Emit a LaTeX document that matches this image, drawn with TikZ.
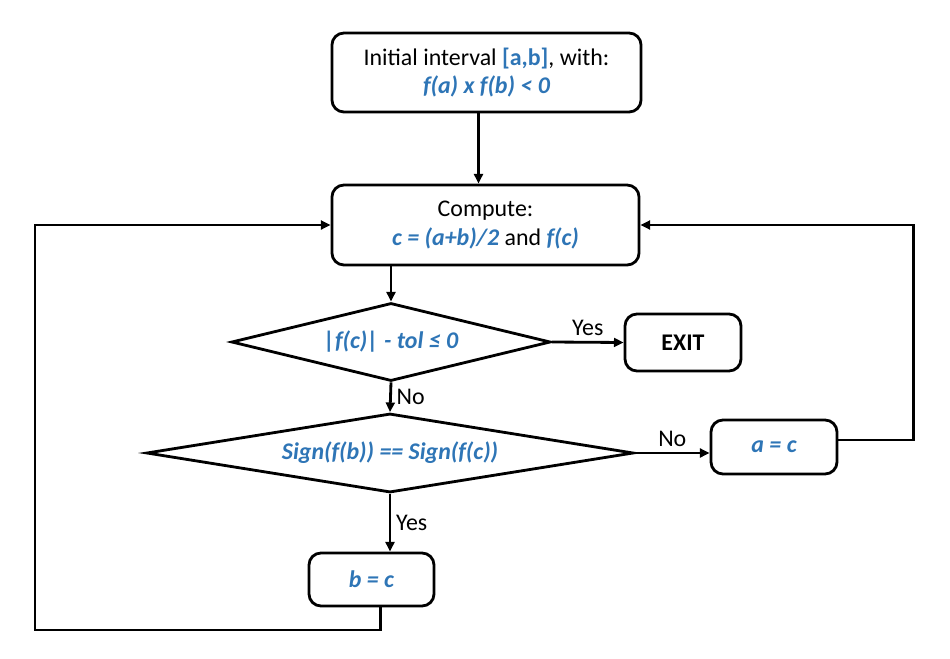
\documentclass[tikz,border=0pt]{standalone}
\usepackage{fontspec}
\setmainfont{Carlito}
\usetikzlibrary{shapes.geometric,arrows.meta}
\definecolor{valblue}{RGB}{46,117,182}
\newcommand{\val}[1]{\textcolor{valblue}{\bfseries\itshape #1}}

\begin{document}
\begin{tikzpicture}[x=0.025cm, y=-0.025cm,
  every node/.style = {font=\fontsize{17}{20}\selectfont, align=center},
  box/.style = {shape=rectangle, rounded corners=0.3cm, draw, line width=2pt},
  test/.style = {shape=diamond, draw, line width=2pt, inner sep=0pt},
  flow/.style = {line width=2pt, -{Triangle[length=0.24cm,width=0.22cm]}}]
  \useasboundingbox (0,0) rectangle (950,659);
  \node [box, minimum width=7.725cm, minimum height=1.975cm] (init) at (486.5,72.5)
    {Initial interval \textcolor{valblue}{\bfseries [a,b]}, with:\\ \val{f(a) x f(b) < 0}};
  \node [box, minimum width=7.675cm, minimum height=2cm] (comp) at (485.5,225)
    {Compute:\\ \val{c = (a+b)/2} and \val{f(c)}};
  \node [test, aspect=4, minimum width=7.975cm, minimum height=1.95cm] (tol) at (391,342)
    {\val{|f(c)| - tol ≤ 0}};
  \node [box, minimum width=2.9cm, minimum height=1.425cm] (exit) at (683,342.5)
    {\bfseries EXIT};
  \node [test, aspect=6, minimum width=12.175cm, minimum height=1.975cm] (sign) at (390,453)
    {\val{Sign(f(b)) == Sign(f(c))}};
  \node [box, minimum width=3.15cm, minimum height=1.35cm] (seta) at (774,447)
    {\val{a = c}};
  \node [box, minimum width=3.125cm, minimum height=1.325cm] (setb) at (371.5,579.5)
    {\val{b = c}};
  % main line
  \draw [flow] ([xshift=-0.2cm]init.south) -- ([xshift=-0.2cm]init.south |- comp.north);
  \draw [flow] (comp.south -| tol.north) -- (tol.north);
  \draw [flow] (tol.east) -- node [above] {Yes} (exit.west);
  \draw [flow] (tol.south) -- node [right] {No} (sign.north);
  \draw [flow] (sign.east) -- node [above] {No} (sign.east -| seta.west);
  \draw [flow] (sign.south) -- node [right] {Yes} (sign.south |- setb.north);
  % loops back
  \draw [flow] ([yshift=0.175cm]seta.east) -- ++(75,0) |- (comp.east);
  \draw [flow] ([xshift=0.225cm]setb.south) |- (35,630) |- (comp.west);
\end{tikzpicture}
\end{document}
